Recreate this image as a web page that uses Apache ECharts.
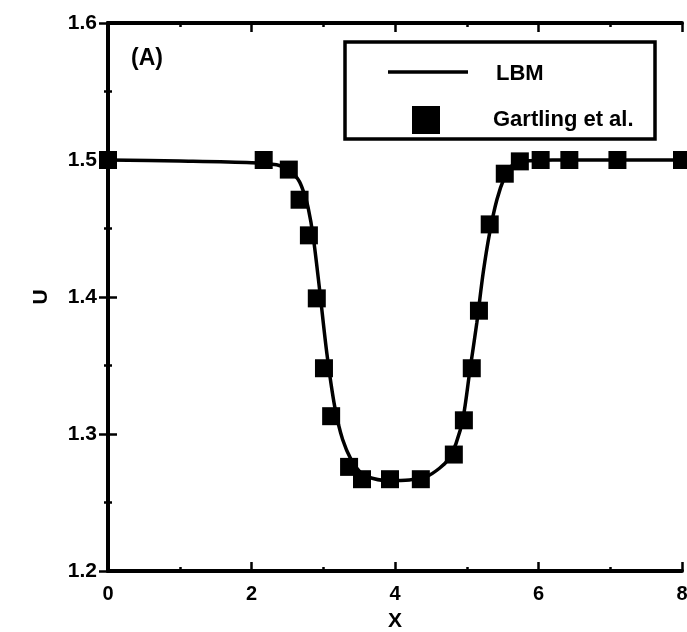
<!DOCTYPE html>
<html>
<head>
<meta charset="utf-8">
<script src="https://cdn.jsdelivr.net/npm/echarts@6/dist/echarts.min.js"></script>
<style>html,body{margin:0;padding:0;background:#fff}#c{width:687px;height:632px}</style>
</head>
<body>
<div id="c"></div>
<script>
// LBM solution (line)
const lbmX = [0, 1, 2, 2.35, 2.5, 2.6, 2.67, 2.73, 2.79, 2.86, 2.95, 3.05, 3.16, 3.27, 3.4, 3.5, 3.6, 3.9, 4.2, 4.44, 4.62, 4.75, 4.85, 4.95, 5.04, 5.14, 5.23, 5.32, 5.42, 5.53, 5.62, 5.72, 5.88, 6.2, 8];
const lbmU = [1.5, 1.4992, 1.498, 1.4965, 1.4935, 1.489, 1.484, 1.476, 1.465, 1.444, 1.405, 1.359, 1.32, 1.296, 1.28, 1.273, 1.269, 1.266, 1.2665, 1.269, 1.275, 1.282, 1.293, 1.312, 1.345, 1.381, 1.418, 1.447, 1.471, 1.488, 1.4955, 1.4985, 1.4995, 1.5, 1.5];
// Gartling et al. (squares)
const refX = [0, 2.17, 2.52, 2.67, 2.80, 2.91, 3.01, 3.11, 3.36, 3.54, 3.93, 4.36, 4.82, 4.96, 5.07, 5.17, 5.32, 5.53, 5.74, 6.03, 6.43, 7.10, 8];
const refU = [1.5, 1.5, 1.493, 1.471, 1.445, 1.399, 1.348, 1.313, 1.276, 1.267, 1.267, 1.267, 1.285, 1.310, 1.348, 1.390, 1.453, 1.490, 1.499, 1.5, 1.5, 1.5, 1.5];
const xTicks = [0, 2, 4, 6, 8];
const yTicks = [1.2, 1.3, 1.4, 1.5, 1.6];

const chart = echarts.init(document.getElementById('c'));
const font = 'Liberation Sans, Arial, sans-serif';
const axisCommon = {
  axisLine: {show: true, lineStyle: {color: '#000', width: 4}},
  axisTick: {show: true, inside: true, length: 9, lineStyle: {color: '#000', width: 2.5}},
  minorTick: {show: true, splitNumber: 2, length: 4, lineStyle: {color: '#000', width: 2.5}},
  splitLine: {show: false}
};
chart.setOption({
  animation: false,
  backgroundColor: '#fff',
  grid: {left: 108, right: 5, top: 23, bottom: 61, containLabel: false, outerBoundsMode: 'none'},
  xAxis: [
    Object.assign({
      type: 'value', min: xTicks[0], max: xTicks[xTicks.length - 1], interval: 2,
      name: 'X', nameLocation: 'middle', nameGap: 40,
      nameTextStyle: {fontSize: 21, fontWeight: 'bold', color: '#000', fontFamily: font},
      axisLabel: {fontSize: 20, fontWeight: 'bold', color: '#000', fontFamily: font, margin: 13}
    }, axisCommon),
    Object.assign({
      type: 'value', position: 'top', min: 0, max: 8, interval: 2,
      axisLabel: {show: false}
    }, axisCommon)
  ],
  yAxis: [
    Object.assign({
      type: 'value', min: yTicks[0], max: yTicks[yTicks.length - 1], interval: 0.1,
      name: 'U', nameLocation: 'middle', nameGap: 56,
      nameTextStyle: {fontSize: 21, fontWeight: 'bold', color: '#000', fontFamily: font},
      axisLabel: {fontSize: 21, fontWeight: 'bold', color: '#000', fontFamily: font, margin: 11,
        formatter: v => v.toFixed(1)}
    }, axisCommon),
    Object.assign({
      type: 'value', position: 'right', min: 1.2, max: 1.6, interval: 0.1,
      axisLabel: {show: false}
    }, axisCommon)
  ],
  series: [
    {
      name: 'LBM', type: 'line', data: lbmX.map((x, i) => [x, lbmU[i]]),
      showSymbol: false, smooth: 0.3,
      lineStyle: {color: '#000', width: 3.5}, z: 3
    },
    {
      name: 'Gartling et al.', type: 'scatter', data: refX.map((x, i) => [x, refU[i]]),
      symbol: 'rect', symbolSize: 18, itemStyle: {color: '#000', opacity: 1}, clip: false, z: 4
    }
  ],
  graphic: [
    {type: 'rect', shape: {x: 345, y: 42, width: 310, height: 97},
      style: {fill: '#fff', stroke: '#000', lineWidth: 3.5}, z: 10},
    {type: 'line', shape: {x1: 388, y1: 72, x2: 468, y2: 72},
      style: {stroke: '#000', lineWidth: 3.5}, z: 11},
    {type: 'rect', shape: {x: 412, y: 106, width: 28, height: 28},
      style: {fill: '#000'}, z: 11},
    {type: 'text', x: 496, y: 74, style: {text: 'LBM', font: 'bold 22px ' + font, fill: '#000', verticalAlign: 'middle'}, z: 11},
    {type: 'text', x: 493, y: 120, style: {text: 'Gartling et al.', font: 'bold 22px ' + font, fill: '#000', verticalAlign: 'middle'}, z: 11},
    {type: 'text', x: 131, y: 59, style: {text: '(A)', font: 'bold 23px ' + font, fill: '#000', verticalAlign: 'middle'}, z: 11}
  ]
});
</script>
</body>
</html>
